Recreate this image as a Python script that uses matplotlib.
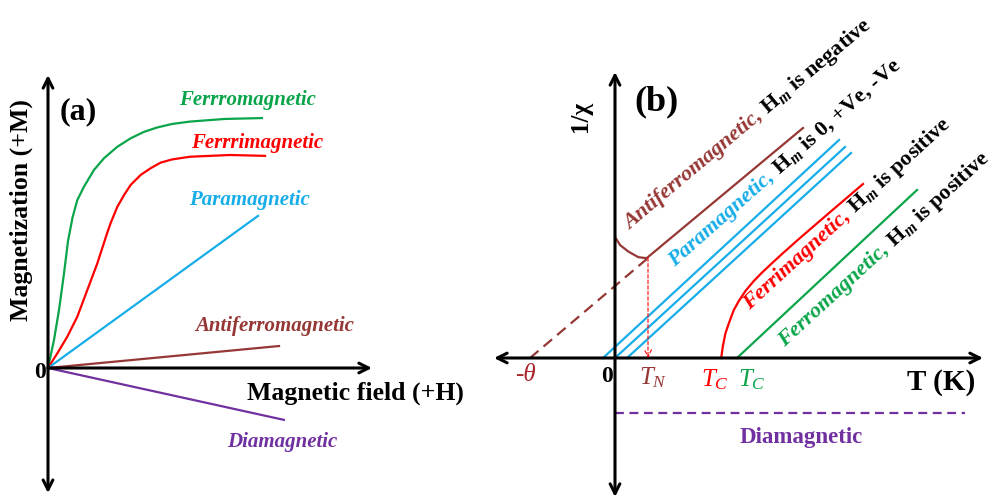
import numpy as np
import matplotlib
matplotlib.use("Agg")
import matplotlib.pyplot as plt

plt.rcParams['font.family'] = ['Liberation Serif', 'DejaVu Serif']
plt.rcParams['mathtext.fontset'] = 'custom'
plt.rcParams['mathtext.rm'] = 'Liberation Serif'
plt.rcParams['mathtext.it'] = 'Liberation Serif:italic'
plt.rcParams['mathtext.bf'] = 'Liberation Serif:bold'
plt.rcParams['mathtext.bfit'] = 'Liberation Serif:italic:bold'

GREEN = '#0aa54a'
RED = '#ff0000'
BLUE = '#16ade8'
BROWN = '#953735'
PURPLE = '#7030a0'

# ---- panel (a): M vs H (arbitrary units, origin at 0) ----
ferro_H = [0, 0.185, 0.34, 0.494, 0.62, 0.76, 0.904, 1.111, 1.42, 1.728, 2.139,
           2.552, 2.963, 3.373, 3.836, 4.38, 5.46, 6.60]
ferro_M = [0, 0.956, 1.98, 3.23, 4.35, 5.15, 5.73, 6.19, 6.76, 7.16, 7.55,
           7.84, 8.06, 8.21, 8.33, 8.41, 8.50, 8.53]
ferri_H = [0, 0.287, 0.596, 0.904, 1.213, 1.522, 1.83, 1.935, 2.139, 2.346, 2.552,
           2.861, 3.17, 3.478, 3.836, 4.38, 5.62, 6.70]
ferri_M = [0, 0.50, 1.07, 1.75, 2.66, 3.57, 4.62, 4.95, 5.50, 5.90, 6.25,
           6.59, 6.82, 7.01, 7.12, 7.21, 7.27, 7.24]
para_H, para_M = [0, 6.48], [0, 5.19]
antiferro_H, antiferro_M = [0, 7.13], [0, 0.75]
dia_H, dia_M = [0, 7.28], [0, -1.77]

# ---- panel (b): 1/chi vs T (arbitrary units) ----
theta = -4.25
T_N, invchi_N = 1.65, 5.0
afm_T = [0.0, 0.25, 0.67, 1.17, 1.58, 9.4]
afm_y = [6.05, 5.65, 5.32, 5.04, 4.99, 11.5]
para_T = [[-0.6, 11.2], [0.0, 11.5], [0.6, 11.8]]
para_y = [[0.0, 10.9], [0.0, 10.55], [0.0, 10.25]]
fim_T = [5.31, 5.39, 5.52, 5.69, 5.94, 6.19, 6.52, 6.94, 7.35, 7.85, 8.35,
         9.25, 10.9, 12.4]
fim_y = [0.0, 0.57, 1.23, 1.73, 2.4, 2.85, 3.35, 3.85, 4.27, 4.74, 5.2,
         6.0, 7.42, 8.7]
fm_T, fm_y = [6.1, 15.1], [0.0, 8.4]
dia_T, dia_y = [0.0, 17.5], [-2.75, -2.75]

fig = plt.figure(figsize=(10.04, 4.99), dpi=100)

axa = fig.add_axes([0, 0, 500 / 1004, 1])
axa.set_xlim(-48 / 32.4, (500 - 48) / 32.4)
axa.set_ylim((368 - 499) / 29.3, 368 / 29.3)
axa.axis('off')
axa.patch.set_visible(False)

axb = fig.add_axes([490 / 1004, 0, 514 / 1004, 1])
axb.set_xlim((490 - 615) / 20, (1004 - 615) / 20)
axb.set_ylim((358 - 499) / 20, 358 / 20)
axb.axis('off')
axb.patch.set_visible(False)

arrow_kw = dict(color='black', lw=2.2, shrinkA=0, shrinkB=0, mutation_scale=10)

# panel (a) axes
axa.annotate('', xy=(0, 10.0), xytext=(0, -4.27),
             arrowprops=dict(arrowstyle='<->, head_length=0.7, head_width=0.35', **arrow_kw))
axa.annotate('', xy=(10.0, 0), xytext=(0, 0),
             arrowprops=dict(arrowstyle='->, head_length=0.7, head_width=0.35', **arrow_kw))

lw = 1.6
axa.plot(ferro_H, ferro_M, color=GREEN, lw=lw)
axa.plot(ferri_H, ferri_M, color=RED, lw=lw)
axa.plot(para_H, para_M, color=BLUE, lw=lw)
axa.plot(antiferro_H, antiferro_M, color=BROWN, lw=lw)
axa.plot(dia_H, dia_M, color=PURPLE, lw=lw)

lab = dict(fontsize=15, fontweight='bold', style='italic', ha='center', va='center')
axa.text(6.17, 9.15, 'Ferrromagnetic', color=GREEN, **lab)
axa.text(6.45, 7.68, 'Ferrrimagnetic', color=RED, **lab)
axa.text(6.23, 5.73, 'Paramagnetic', color=BLUE, **lab)
axa.text(7.0, 1.43, 'Antiferromagnetic', color=BROWN, **lab)
axa.text(7.22, -2.53, 'Diamagnetic', color=PURPLE, **lab)
axa.text(0.93, 8.74, '(a)', fontsize=23, fontweight='bold', ha='center', va='center')
axa.text(-0.25, -0.17, '0', fontsize=17, fontweight='bold', ha='center', va='center')
axa.text(-0.82, 5.39, 'Magnetization (+M)', fontsize=18.5, fontweight='bold',
         rotation=90, ha='center', va='center')
axa.text(9.48, -0.85, 'Magnetic field (+H)', fontsize=18.5, fontweight='bold',
         ha='center', va='center')

# panel (b) axes
axb.annotate('', xy=(0, 14.3), xytext=(0, -6.95),
             arrowprops=dict(arrowstyle='<->, head_length=0.7, head_width=0.35', **arrow_kw))
axb.annotate('', xy=(18.4, 0), xytext=(-6.05, 0),
             arrowprops=dict(arrowstyle='<->, head_length=0.7, head_width=0.35', **arrow_kw))

axb.plot([theta, T_N], [0, invchi_N], color=BROWN, lw=lw, dashes=(5, 3))
axb.plot(afm_T, afm_y, color=BROWN, lw=lw)
for xs, ys in zip(para_T, para_y):
    axb.plot(xs, ys, color=BLUE, lw=lw)
axb.plot(fim_T, fim_y, color=RED, lw=lw)
axb.plot(fm_T, fm_y, color=GREEN, lw=lw)
axb.plot(dia_T, dia_y, color=PURPLE, lw=lw, dashes=(4, 2.5))
axb.annotate('', xy=(T_N, 0), xytext=(T_N, invchi_N),
             arrowprops=dict(arrowstyle='->, head_length=0.5, head_width=0.25', color=RED,
                             lw=0.8, ls=(0, (3, 2)), shrinkA=0, shrinkB=0, mutation_scale=10))

axb.text(2.05, 12.8, '(b)', fontsize=26, fontweight='bold', ha='center', va='center')
axb.text(-1.75, 12.05, '1/χ', fontsize=18, fontweight='bold', rotation=90,
         ha='center', va='center')
axb.text(-4.5, -0.85, '-θ', fontsize=18, style='italic', color='#a8282d', ha='center', va='center')
axb.text(-0.4, -0.95, '0', fontsize=17, fontweight='bold', ha='center', va='center')
axb.text(1.9, -1.0, r'$T_N$', fontsize=18, color=BROWN, ha='center', va='center')
axb.text(5.0, -1.1, r'$T_C$', fontsize=18, color=RED, ha='center', va='center')
axb.text(6.85, -1.1, r'$T_C$', fontsize=18, color=GREEN, ha='center', va='center')
axb.text(16.3, -1.25, 'T (K)', fontsize=21, fontweight='bold', ha='center', va='center')
axb.text(9.3, -4.0, 'Diamagnetic', fontsize=16.5, fontweight='bold', color=PURPLE,
         ha='center', va='center')

renderer = fig.canvas.get_renderer()


def rot_label(ax, x, y, parts, angle, size):
    # place several coloured pieces one after another along a rotated baseline
    x0, y0 = ax.transData.transform((x, y))
    a = np.deg2rad(angle)
    for s, color, style in parts:
        px, py = ax.transData.inverted().transform((x0, y0))
        t = ax.text(px, py, s, color=color, fontsize=size, fontweight='bold', style=style,
                    ha='left', va='baseline', rotation_mode='anchor')
        w = t.get_window_extent(renderer).width
        t.set_rotation(angle)
        x0 += w * np.cos(a)
        y0 += w * np.sin(a)


rot_label(axb, 0.75, 6.4, [('Antiferromagnetic,', BROWN, 'italic'),
                           (r' H$_{\mathbfit{m}}$ is negative', 'black', 'normal')], 40, 16)
rot_label(axb, 3.0, 4.55, [('Paramagnetic,', BLUE, 'italic'),
                           (r' H$_{\mathbfit{m}}$ is 0, +Ve, -Ve', 'black', 'normal')], 41.5, 16)
rot_label(axb, 6.75, 2.4, [('Ferrimagnetic,', RED, 'italic'),
                           (r' H$_{\mathbfit{m}}$ is positive', 'black', 'normal')], 42.5, 16)
rot_label(axb, 8.5, 0.55, [('Ferromagnetic,', GREEN, 'italic'),
                           (r' H$_{\mathbfit{m}}$ is positive', 'black', 'normal')], 42.5, 16)

fig.savefig('out.png', dpi=100)
